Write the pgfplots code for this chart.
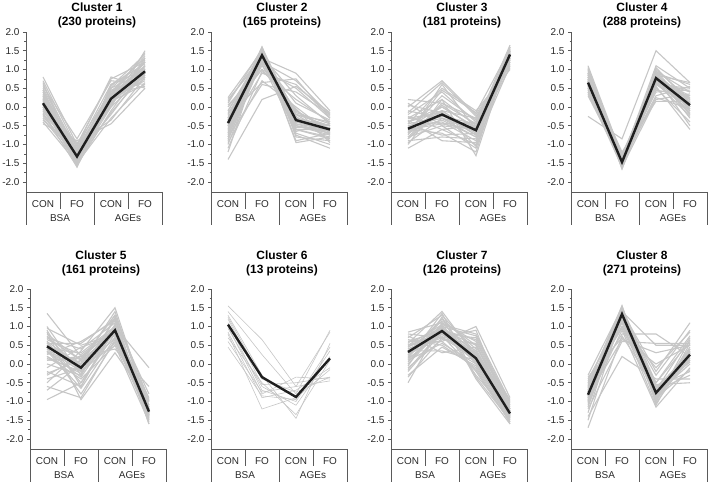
\documentclass[border=0pt]{standalone}
\usepackage{fontspec}
\setmainfont{Liberation Sans}
\usepackage{pgfplots}
\pgfplotsset{compat=1.18}

\definecolor{axgray}{HTML}{5A5A5A}
\definecolor{txt}{HTML}{2A2A2A}
\definecolor{lightline}{HTML}{C6C6C6}

\pgfplotsset{
  cluster/.style={
    scale only axis, width=136bp, height=160bp,
    xmin=-0.5, xmax=3.5, ymin=-2.267, ymax=2.0,
    clip=false,
    axis x line*=bottom, axis y line*=left,
    axis line style={axgray, line width=0.6bp},
    xtick={0,1,2,3}, xticklabels={CON,FO,CON,FO},
    xtick style={draw=none},
    xticklabel style={anchor=center, yshift=-9bp},
    ytick={-2,-1.5,-1,-0.5,0,0.5,1,1.5,2},
    yticklabels={-2.0,-1.5,-1.0,-0.5,0.0,0.5,1.0,1.5,2.0},
    minor y tick num=1,
    tick align=outside, ytick pos=left,
    major tick length=3bp, minor tick length=1.5bp,
    every tick/.style={axgray, line width=0.5bp},
    tick label style={font=\fontsize{10}{12}\selectfont, text=txt},
    title style={font=\fontsize{12}{14}\bfseries\selectfont, align=center,
      anchor=south, at={(0.5,1)}, xshift=3bp},
  },
  toprow/.style={title style={yshift=-5bp}},
  bottomrow/.style={title style={yshift=4bp}},
  gl/.style={lightline, line width=1.1bp},
  ml/.style={black!88, line width=2.4bp, line join=miter},
}

% CON | FO | CON | FO over BSA | AGEs
\newcommand{\grouptable}{%
  \draw[axgray, line width=0.6bp] (axis cs:-0.5,-2.267) -- (axis cs:-0.5,-3.147);
  \draw[axgray, line width=0.6bp] (axis cs:0.5,-2.267) -- (axis cs:0.5,-2.72);
  \draw[axgray, line width=0.6bp] (axis cs:1.5,-2.267) -- (axis cs:1.5,-3.147);
  \draw[axgray, line width=0.6bp] (axis cs:2.5,-2.267) -- (axis cs:2.5,-2.72);
  \draw[axgray, line width=0.6bp] (axis cs:3.5,-2.267) -- (axis cs:3.5,-3.147);
  \node[font=\fontsize{10}{12}\selectfont, text=txt] at (axis cs:0.5,-2.96) {BSA};
  \node[font=\fontsize{10}{12}\selectfont, text=txt] at (axis cs:2.5,-2.96) {AGEs};
}

% one thin grey profile per protein: CON/FO (BSA), CON/FO (AGEs)
\newcommand{\profiles}[1]{%
  \foreach \a/\b/\c/\d in {#1}{%
    \edef\tmp{\noexpand\addplot[gl] coordinates {(0,\a)(1,\b)(2,\c)(3,\d)};}\tmp
  }%
}

\begin{document}
\begin{tikzpicture}
\useasboundingbox (0,0) rectangle (709bp,482bp);

% ---------------- row 1 ----------------
\begin{axis}[cluster, toprow, at={(26bp,290bp)}, anchor=south west,
  title={Cluster 1\\(230 proteins)}]
  \profiles{0.8/-1.0/0.75/1.2, 0.7/-1.1/0.6/1.0, 0.6/-1.2/0.5/1.3, 0.5/-1.15/0.4/0.9,
    0.45/-1.3/0.35/1.1, 0.4/-1.4/0.3/1.45, 0.35/-1.25/0.45/0.8, 0.3/-1.5/0.2/1.2,
    0.25/-1.35/0.25/0.7, 0.2/-1.2/0.1/1.0, 0.15/-1.45/0.0/1.5, 0.1/-1.3/0.3/0.9,
    0.05/-1.4/0.15/0.6, 0.0/-1.55/-0.1/1.1, -0.05/-1.25/0.5/0.95, -0.1/-1.35/0.05/1.3,
    -0.15/-1.6/0.2/0.75, -0.2/-1.1/0.35/0.55, -0.25/-1.3/-0.2/1.0, -0.3/-1.45/0.1/1.2,
    -0.35/-1.2/0.0/0.85, -0.4/-1.5/-0.3/0.65, -0.45/-0.9/-0.45/0.5, 0.55/-0.85/0.7/0.6,
    0.65/-1.55/0.55/1.4, -0.05/-0.95/-0.35/0.8, 0.3/-1.05/0.8/0.5, 0.2/-1.6/0.6/1.15,
    0.0/-1.0/0.4/1.35, 0.45/-1.45/-0.15/0.9,
    0.1/-1.3/0.25/0.95, 0.2/-1.35/0.3/1.05, 0.0/-1.25/0.15/0.85, 0.15/-1.4/0.35/1.0,
    -0.1/-1.2/0.2/1.1, 0.3/-1.3/0.1/0.9, 0.05/-1.5/0.4/1.2, -0.2/-1.4/0.25/0.95,
    0.4/-1.2/0.2/0.8, 0.25/-1.15/0.05/1.25}
  \addplot[ml] coordinates {(0,0.1) (1,-1.32) (2,0.22) (3,0.95)};
  \grouptable
\end{axis}

\begin{axis}[cluster, toprow, at={(211bp,290bp)}, anchor=south west,
  title={Cluster 2\\(165 proteins)}]
  \profiles{0.25/1.5/-0.5/-0.7, 0.2/1.3/0.9/-0.1, 0.1/1.55/-0.2/-0.4, 0.0/1.2/0.7/-0.2,
    -0.1/1.45/-0.6/-0.8, -0.15/1.0/0.5/-0.3, -0.2/1.4/-0.4/-0.55, -0.3/1.6/-0.8/-0.9,
    -0.35/1.35/0.3/-0.45, -0.4/1.1/-0.1/-0.6, -0.45/1.5/-0.7/-1.0, -0.5/1.25/0.1/-0.35,
    -0.55/1.45/-0.9/-0.7, -0.6/0.9/0.6/-0.25, -0.65/1.4/-0.5/-0.65, -0.7/1.55/-0.3/-0.5,
    -0.75/1.3/-0.6/-0.85, -0.8/0.6/0.4/-0.2, -0.85/1.2/-0.2/-0.75, -0.9/1.45/-0.75/-1.1,
    -1.0/1.35/-0.45/-0.6, -1.1/0.95/0.2/-0.4, -1.2/1.5/-0.95/-0.8, -1.4/0.2/0.55/-0.15,
    -0.25/0.65/0.75/-0.3, 0.05/1.0/-0.05/-0.95, -0.5/1.6/-0.35/-0.5, -0.3/1.15/-0.65/-0.45,
    -0.95/0.7/0.0/-0.7, 0.15/1.4/-0.25/-0.9,
    -0.4/1.35/-0.3/-0.6, -0.3/1.4/-0.45/-0.7, -0.5/1.3/-0.2/-0.5, -0.6/1.45/-0.4/-0.65,
    -0.2/1.25/-0.55/-0.55, -0.7/1.35/-0.15/-0.45, -0.45/1.5/-0.5/-0.75, -0.35/1.2/-0.3/-0.5,
    -0.8/1.4/-0.6/-0.6, -0.1/1.3/-0.1/-0.65}
  \addplot[ml] coordinates {(0,-0.43) (1,1.38) (2,-0.35) (3,-0.6)};
  \grouptable
\end{axis}

\begin{axis}[cluster, toprow, at={(391bp,290bp)}, anchor=south west,
  title={Cluster 3\\(181 proteins)}]
  \profiles{0.2/0.1/-0.3/1.3, 0.1/-0.5/-0.6/1.5, 0.0/0.7/-0.2/1.2, -0.1/-0.3/-0.8/1.6,
    -0.2/0.4/-0.4/1.4, -0.25/-0.6/-1.0/1.1, -0.3/0.2/-0.5/1.55, -0.4/-0.1/-0.7/1.35,
    -0.45/0.5/-0.1/1.0, -0.5/-0.4/-0.9/1.45, -0.55/0.0/-0.55/1.25, -0.6/-0.7/-1.2/1.6,
    -0.65/0.3/-0.35/1.15, -0.7/-0.2/-0.75/1.5, -0.75/0.6/-0.6/1.3, -0.8/-0.5/-1.1/1.4,
    -0.85/0.1/-0.45/1.65, -0.9/-0.8/-0.85/1.2, -0.95/-0.3/-0.65/1.05, -1.0/0.2/-1.3/1.5,
    -1.1/-0.6/-0.5/1.35, -0.35/-0.9/-0.95/1.45, -0.15/0.65/-0.25/1.1, -0.7/0.45/-0.15/1.55,
    -0.5/-0.75/-0.7/1.25, 0.05/-0.15/-1.05/1.6, -0.85/-0.1/-0.3/1.3, -0.3/-0.45/-0.6/1.5,
    -0.55/-0.2/-0.6/1.4, -0.6/-0.1/-0.7/1.35, -0.5/-0.3/-0.5/1.45, -0.7/-0.2/-0.65/1.3,
    -0.4/0.0/-0.55/1.5, -0.65/-0.35/-0.8/1.4, -0.45/-0.25/-0.45/1.35, -0.8/0.05/-0.6/1.45,
    -0.3/-0.15/-0.75/1.3, -0.6/-0.45/-0.4/1.5}
  \addplot[ml] coordinates {(0,-0.58) (1,-0.2) (2,-0.62) (3,1.4)};
  \grouptable
\end{axis}

\begin{axis}[cluster, toprow, at={(571bp,290bp)}, anchor=south west,
  title={Cluster 4\\(288 proteins)}]
  \profiles{1.1/-1.3/0.9/0.6, 1.0/-1.5/0.7/0.4, 0.95/-1.6/1.0/0.2, 0.9/-1.4/0.8/-0.2,
    0.85/-1.55/0.6/0.5, 0.8/-1.35/0.95/0.0, 0.75/-1.65/0.75/0.3, 0.7/-1.45/0.5/-0.4,
    0.65/-1.5/0.85/0.65, 0.6/-1.25/0.65/-0.1, 0.55/-1.6/1.05/0.1, 0.5/-1.4/0.4/0.45,
    0.45/-1.55/0.8/-0.5, 0.4/-1.3/0.7/0.25, 0.35/-1.5/0.9/-0.3, 0.3/-1.45/0.3/0.55,
    0.7/-1.6/0.2/0.35, 0.8/-1.2/0.15/0.15, 0.6/-1.5/0.25/-0.05, 1.05/-1.4/1.1/0.5,
    0.9/-1.65/0.55/-0.6, -0.25/-0.85/1.5/0.65, 0.5/-1.35/0.85/0.2, 0.75/-1.55/0.65/-0.25,
    0.65/-1.45/0.95/0.4, 0.4/-1.6/0.6/0.0, 0.85/-1.5/0.75/-0.15, 1.0/-1.3/0.45/0.3,
    0.65/-1.45/0.75/0.05, 0.7/-1.5/0.8/0.1, 0.6/-1.4/0.7/0.0, 0.75/-1.55/0.85/0.15,
    0.55/-1.45/0.75/-0.05, 0.8/-1.4/0.7/0.2, 0.5/-1.5/0.9/-0.1, 0.9/-1.45/0.8/0.1,
    0.65/-1.6/0.65/0.25, 0.7/-1.35/0.85/-0.2}
  \addplot[ml] coordinates {(0,0.65) (1,-1.47) (2,0.77) (3,0.05)};
  \grouptable
\end{axis}

% ---------------- row 2 ----------------
\begin{axis}[cluster, bottomrow, at={(30bp,33bp)}, anchor=south west,
  title={Cluster 5\\(161 proteins)}]
  \profiles{1.35/0.2/0.9/-1.0, 1.0/-0.3/1.2/-1.4, 0.95/0.5/0.8/-1.2, 0.9/-0.6/1.0/-1.5,
    0.8/0.1/1.3/-1.1, 0.75/-0.2/0.7/-1.3, 0.7/0.4/1.1/-1.6, 0.6/-0.5/0.9/-0.9,
    0.5/0.0/1.4/-1.25, 0.45/-0.8/0.6/-1.45, 0.4/0.3/1.0/-1.2, 0.3/-0.1/0.85/-1.35,
    0.25/0.6/1.15/-0.8, 0.2/-0.4/0.5/-1.55, 0.1/0.15/0.95/-1.0, 0.0/-0.3/1.25/-1.4,
    -0.1/0.45/0.75/-1.15, -0.2/-0.6/1.05/-1.3, -0.3/0.2/0.4/-0.6, -0.4/-0.1/0.9/-1.5,
    -0.5/0.35/1.5/-1.2, -0.6/-0.9/0.65/-1.35, -0.7/0.0/1.0/-0.1, -0.95/-0.5/0.8/-1.1,
    0.85/-0.95/0.3/-1.0, 0.55/0.55/1.2/-1.45, 0.15/-0.2/0.55/-1.25, 0.65/0.25/0.95/-1.6,
    -0.25/0.1/1.3/-0.95, 0.35/-0.65/0.7/-1.2,
    0.45/-0.1/0.9/-1.25, 0.5/0.0/0.95/-1.3, 0.4/-0.2/0.85/-1.2, 0.55/-0.15/1.0/-1.35,
    0.3/0.05/0.8/-1.25, 0.6/-0.05/0.9/-1.15, 0.2/-0.25/1.05/-1.4, 0.7/0.1/0.85/-1.3,
    0.35/-0.35/0.95/-1.2, 0.1/0.2/0.9/-1.35}
  \addplot[ml] coordinates {(0,0.47) (1,-0.1) (2,0.9) (3,-1.27)};
  \grouptable
\end{axis}

\begin{axis}[cluster, bottomrow, at={(211bp,33bp)}, anchor=south west,
  title={Cluster 6\\(13 proteins)}, gl/.style={lightline, line width=0.6bp}]
  \profiles{1.55/0.65/-0.6/0.85, 1.4/0.25/-0.8/0.9, 1.3/-0.3/-1.45/0.55, 1.2/-0.55/-0.5/-0.35,
    1.1/-0.7/-1.0/0.35, 1.0/-0.8/-0.35/-0.4, 0.95/-0.6/-1.1/0.2, 0.85/-0.9/-0.7/-0.1,
    0.8/-1.2/-0.9/-0.15, 0.7/-0.5/-1.35/0.1, 0.6/-0.75/-0.6/-0.45, 0.45/-0.85/-0.95/0.45,
    1.25/-0.4/-0.75/-0.35}
  \addplot[ml] coordinates {(0,1.05) (1,-0.35) (2,-0.88) (3,0.15)};
  \grouptable
\end{axis}

\begin{axis}[cluster, bottomrow, at={(391bp,33bp)}, anchor=south west,
  title={Cluster 7\\(126 proteins)}]
  \profiles{0.85/1.1/0.6/-1.2, 0.8/0.7/0.9/-1.4, 0.7/1.3/0.3/-1.0, 0.65/0.5/-0.1/-1.5,
    0.6/0.9/0.5/-1.3, 0.55/1.4/0.2/-1.6, 0.5/0.6/1.0/-0.9, 0.45/1.0/-0.3/-1.35,
    0.4/0.8/0.7/-1.1, 0.35/0.35/0.1/-1.45, 0.3/1.2/0.4/-1.25, 0.25/0.75/-0.2/-1.55,
    0.2/1.05/0.8/-1.0, 0.1/0.55/0.0/-1.4, 0.0/0.95/0.35/-1.2, -0.05/1.25/-0.4/-1.6,
    -0.1/0.65/0.55/-1.3, -0.2/0.85/0.15/-1.1, -0.3/0.45/-0.05/-1.45, -0.5/1.1/0.25/-1.35,
    0.75/0.3/0.45/-0.95, 0.15/1.35/-0.35/-1.5, -0.15/0.9/0.65/-1.15, 0.5/0.8/0.05/-1.4,
    0.3/1.15/0.5/-1.25, 0.6/0.6/-0.15/-1.55, -0.35/0.7/0.3/-1.2, 0.05/1.0/0.75/-1.05,
    0.3/0.9/0.15/-1.3, 0.35/0.85/0.2/-1.35, 0.25/0.95/0.1/-1.25, 0.4/0.8/0.25/-1.4,
    0.2/1.0/0.05/-1.3, 0.45/0.9/0.2/-1.2, 0.15/0.8/0.3/-1.35, 0.5/1.05/0.0/-1.3,
    0.35/0.7/0.15/-1.45, 0.1/0.95/0.25/-1.25}
  \addplot[ml] coordinates {(0,0.32) (1,0.88) (2,0.15) (3,-1.32)};
  \grouptable
\end{axis}

\begin{axis}[cluster, bottomrow, at={(571bp,33bp)}, anchor=south west,
  title={Cluster 8\\(271 proteins)}]
  \profiles{-0.3/1.5/-0.5/0.6, -0.4/1.2/-0.9/0.1, -0.45/1.4/0.5/0.5, -0.5/1.0/-0.7/-0.3,
    -0.55/1.55/-1.0/0.4, -0.6/1.3/-0.3/0.9, -0.65/0.8/0.8/0.2, -0.7/1.45/-0.8/0.0,
    -0.75/1.1/-1.1/0.55, -0.8/1.35/-0.6/-0.2, -0.85/0.65/0.3/0.5, -0.9/1.5/-0.95/0.3,
    -0.95/1.25/-0.5/0.75, -1.0/0.9/-1.15/-0.1, -1.05/1.4/-0.2/1.1, -1.1/1.15/-0.85/0.15,
    -1.2/0.6/0.55/0.55, -1.3/1.45/-0.75/0.35, -1.4/0.2/-0.4/-0.4, -1.5/1.3/-1.0/0.65,
    -1.7/0.75/-0.65/0.05, -0.35/0.7/0.0/0.5, -0.6/1.0/-0.1/0.85, -0.9/1.2/-0.55/-0.5,
    -0.75/1.55/-1.05/0.25, -1.15/1.35/-0.7/0.7, -0.5/0.95/-0.85/0.45, -1.0/1.5/-0.9/-0.15,
    -0.8/1.35/-0.75/0.25, -0.85/1.3/-0.8/0.3, -0.75/1.4/-0.7/0.2, -0.9/1.25/-0.85/0.35,
    -0.7/1.3/-0.75/0.15, -0.95/1.4/-0.65/0.3, -0.65/1.2/-0.9/0.25, -1.0/1.35/-0.8/0.4,
    -0.8/1.45/-0.6/0.1, -0.6/1.25/-0.85/0.3}
  \addplot[ml] coordinates {(0,-0.82) (1,1.33) (2,-0.77) (3,0.25)};
  \grouptable
\end{axis}

\end{tikzpicture}
\end{document}
